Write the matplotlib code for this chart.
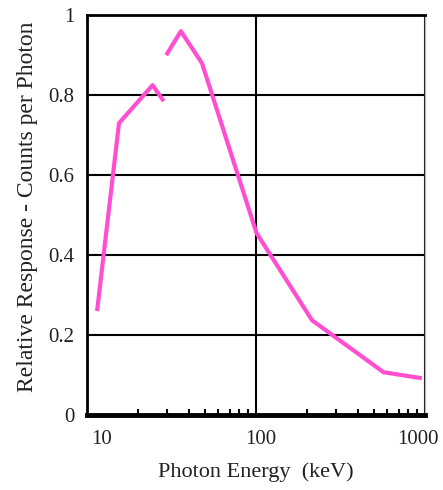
import matplotlib
matplotlib.use("Agg")
import matplotlib.pyplot as plt
from matplotlib.ticker import LogLocator, NullFormatter, FixedLocator
from matplotlib.transforms import ScaledTranslation

# K-edge splits the response curve into two pieces
energy_low = [11.5, 15.5, 24.5, 28.5]
response_low = [0.26, 0.73, 0.825, 0.785]
energy_high = [29.5, 36, 48, 101, 215, 570, 960]
response_high = [0.90, 0.96, 0.88, 0.455, 0.237, 0.107, 0.092]

x_ticks = [10, 100, 1000]
x_tick_labels = ["10", "100", "1000"]
y_ticks = [0, 0.2, 0.4, 0.6, 0.8, 1]
y_tick_labels = ["0", "0.2", "0.4", "0.6", "0.8", "1"]

plt.rcParams['font.family'] = ['Liberation Serif', 'DejaVu Serif']

fig = plt.figure(figsize=(4.43, 4.9), dpi=100)
ax = fig.add_axes([0.196, 0.153, 0.763, 0.816])

line_kw = dict(color='#ff4fd0', linewidth=3, solid_capstyle='butt')
ax.plot(energy_low, response_low, **line_kw)
ax.plot(energy_high, response_high, **line_kw)

ax.set_xscale('log')
ax.set_xlim(10, 1000)
ax.set_ylim(0, 1)

ax.xaxis.set_major_locator(FixedLocator(x_ticks))
ax.set_xticklabels(x_tick_labels)
ax.xaxis.set_minor_locator(LogLocator(base=10, subs=range(2, 10)))
ax.xaxis.set_minor_formatter(NullFormatter())
ax.set_yticks(y_ticks)
ax.set_yticklabels(y_tick_labels)

ax.tick_params(axis='x', which='major', length=0, pad=11, labelsize=15, colors='#222222')
ax.tick_params(axis='x', which='minor', direction='in', length=4, width=1.5, color='black')
ax.tick_params(axis='y', which='major', length=0, pad=9, labelsize=15, colors='#222222')

# the original labels sit a little off their ticks
for lab, dx in zip(ax.get_xticklabels(), [15, 5, -7]):
    lab.set_transform(lab.get_transform() + ScaledTranslation(dx / 100, 0, fig.dpi_scale_trans))

ax.grid(True, which='major', color='black', linewidth=1.5)
ax.set_axisbelow(True)

ax.spines['bottom'].set_linewidth(3.5)
ax.spines['left'].set_linewidth(2)
ax.spines['top'].set_linewidth(2)
ax.spines['right'].set_color('#bbbbbb')
ax.spines['right'].set_linewidth(1)

ax.set_xlabel('Photon Energy  (keV)', fontsize=16, labelpad=9, color='#222222')
ax.set_ylabel('Relative Response - Counts per Photon', fontsize=17, color='#222222')
ax.yaxis.set_label_coords(-0.145, 0.52)

fig.savefig('out.png', dpi=100)
